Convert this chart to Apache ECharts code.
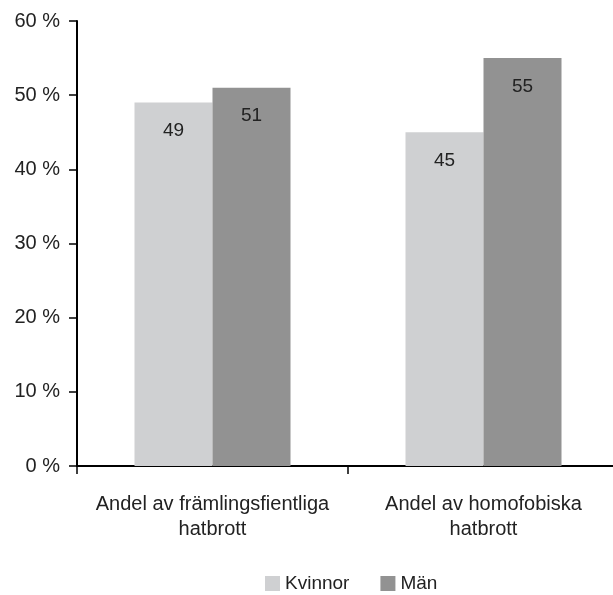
<!DOCTYPE html>
<html>
<head>
<meta charset="utf-8">
<script src="https://cdn.jsdelivr.net/npm/echarts@6/dist/echarts.min.js"></script>
<style>
  html, body { margin: 0; padding: 0; background: #fff; overflow: hidden; }
  #chart { width: 619px; height: 595px; }
</style>
</head>
<body>
<div id="chart"></div>
<script>
const categories = ['Andel av främlingsfientliga\nhatbrott', 'Andel av homofobiska\nhatbrott'];
const kvinnor = [49, 45];
const man = [51, 55];
const seriesNames = ['Kvinnor', 'Män'];

const font = '"Liberation Sans", Arial, sans-serif';
const chart = echarts.init(document.getElementById('chart'));

const labelStyle = {
  show: true,
  position: 'insideTop',
  distance: 19,
  color: '#222',
  fontSize: 19,
  fontFamily: font,
};

chart.setOption({
  animation: false,
  textStyle: { fontFamily: font },
  grid: { left: 77, right: 0, top: 21, bottom: 129, containLabel: false },
  legend: {
    top: 569,
    left: 260,
    itemWidth: 15,
    itemHeight: 15,
    itemGap: 31,
    icon: 'rect',
    textStyle: { color: '#222', fontSize: 19, fontFamily: font },
    data: seriesNames,
  },
  xAxis: {
    type: 'category',
    data: categories,
    axisLine: { lineStyle: { color: '#000', width: 2 } },
    axisTick: { show: true, interval: 0, length: 8, lineStyle: { color: '#000', width: 1.5 } },
    axisLabel: {
      interval: 0,
      color: '#222',
      fontSize: 20,
      lineHeight: 25,
      margin: 26,
      fontFamily: font,
    },
  },
  yAxis: {
    type: 'value',
    min: 0,
    max: 60,
    interval: 10,
    axisLine: { show: true, lineStyle: { color: '#000', width: 2 } },
    axisTick: { show: true, length: 8, lineStyle: { color: '#000', width: 1.5 } },
    splitLine: { show: false },
    axisLabel: {
      formatter: '{value} %',
      color: '#222',
      fontSize: 20,
      margin: 17,
      fontFamily: font,
    },
  },
  series: [
    {
      name: seriesNames[0],
      type: 'bar',
      data: kvinnor,
      barWidth: 78,
      barGap: '0%',
      itemStyle: { color: '#cfd0d2' },
      label: labelStyle,
    },
    {
      name: seriesNames[1],
      type: 'bar',
      data: man,
      barWidth: 78,
      barGap: '0%',
      itemStyle: { color: '#929292' },
      label: labelStyle,
    },
  ],
});
</script>
</body>
</html>
